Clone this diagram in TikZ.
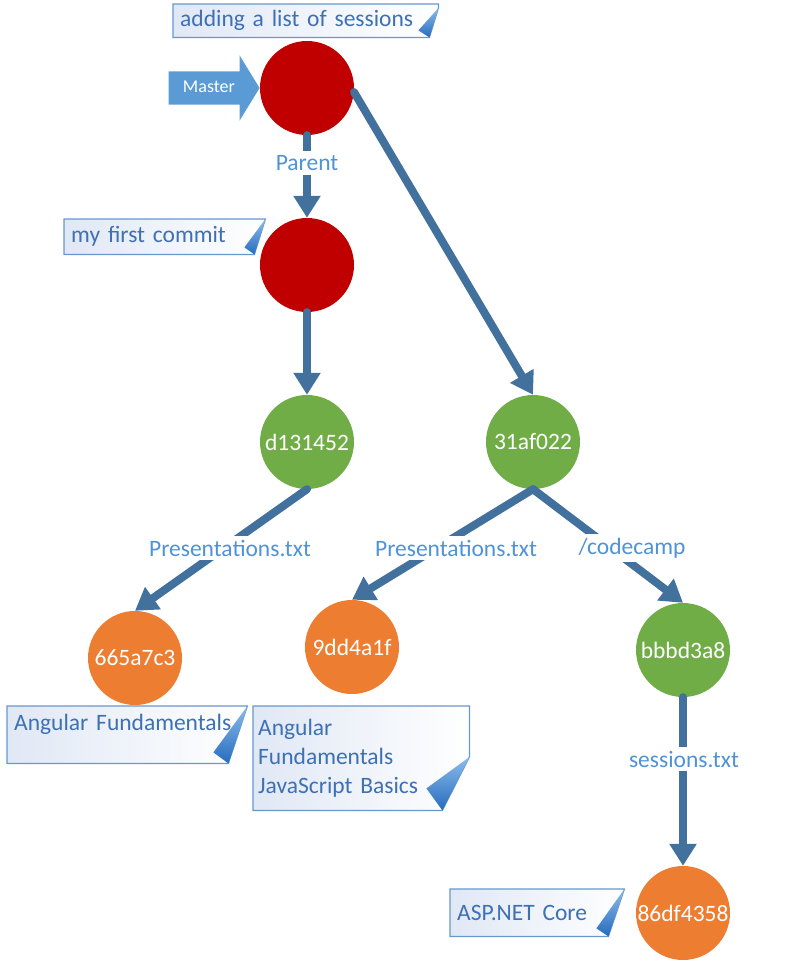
\documentclass[tikz,border=0pt]{standalone}
\usepackage{fontspec}
\setmainfont{Carlito}
\usetikzlibrary{arrows.meta,positioning,shapes.arrows}
\definecolor{linkblue}{RGB}{65,113,156}
\definecolor{labelblue}{RGB}{79,147,214}
\definecolor{notetext}{RGB}{62,112,180}
\definecolor{noteline}{RGB}{104,150,205}
\definecolor{notebg}{RGB}{224,232,245}
\definecolor{curllight}{RGB}{140,188,235}
\definecolor{curldark}{RGB}{38,108,190}
\definecolor{masterblue}{RGB}{91,155,213}
\definecolor{commitred}{RGB}{192,0,0}
\definecolor{treegreen}{RGB}{112,173,71}
\definecolor{bloborange}{RGB}{237,125,49}
\pgfdeclarelayer{background}
\pgfsetlayers{background,main}

% note outline with a curled corner: name, gap, fold, curl dx, curl dy
\newcommand{\notefold}[5]{%
  \begin{pgfonlayer}{background}
    \path[notebox] (#1.north west) -- (#1.north east) -- ([yshift=-#2pt]#1.north east)
      -- ([xshift=-#3pt]#1.south east) -- (#1.south west) -- cycle;
  \end{pgfonlayer}
  \path[notecurl] ([yshift=-#2pt]#1.north east) -- ([xshift=-#3pt]#1.south east)
    -- ([xshift=-#4pt,yshift=#5pt]#1.south east) -- cycle;
}

\begin{document}
\begin{tikzpicture}[x=1pt, y=-1pt,
    every node/.style={font=\fontsize{23.5}{29}\selectfont},
    obj/.style={circle, minimum size=94pt, inner sep=0pt, text=white},
    link/.style={draw=linkblue, line width=8pt, line cap=round, -{Triangle[length=22pt,width=26pt]}},
    linklabel/.style={fill=white, text=labelblue, inner sep=4pt},
    note/.style={anchor=north west, text=notetext, align=left, inner xsep=7pt, inner ysep=0pt},
    notebox/.style={draw=noteline, line width=1.2pt, left color=notebg, right color=white},
    notecurl/.style={top color=curllight, bottom color=curldark},
    masterarrow/.style={single arrow, fill=masterblue, text=white, font=\fontsize{18}{22}\selectfont,
        single arrow head extend=16pt, single arrow tip angle=117, minimum height=91pt,
        text height=13pt, text depth=4pt, inner ysep=8pt, inner xsep=4pt}
]
\useasboundingbox (0,0) rectangle (785,969);

\foreach \name/\x/\y/\col/\txt in {head/307/88/commitred/{}, first/307/265/commitred/{},
    treeA/307/442/treegreen/d131452, treeB/533/442/treegreen/31af022,
    blobA/135/658/bloborange/665a7c3, blobB/352/647/bloborange/9dd4a1f,
    treeC/683/650/treegreen/bbbd3a8, blobC/683/913/bloborange/86df4358}
    \node[obj, fill=\col] (\name) at (\x,\y) {\txt};

\node[masterarrow, anchor=tip] (master) at (head.west) {Master};

\draw[link] (head.south) -- (first.north);
\draw[link] (head.-5) -- (treeB.north);
\draw[link] (first.south) -- (treeA.north);
\draw[link] (treeA.south) -- (blobA.north);
\draw[link] (treeB.south) -- (blobB.north);
\draw[link] (treeB.south) -- (treeC.north);
\draw[link] (treeC.south) -- (blobC.north);

\node[linklabel] (lblparent) at (307,163) {Parent};
\node[linklabel] (lblpresA) at (230,548) {Presentations.txt};
\node[linklabel] (lblpresB) at (456,548) {Presentations.txt};
\node[linklabel] (lblcamp) at (632,548) {/codecamp};
\node[linklabel] (lblsess) at (684,759) {sessions.txt};

% notes
\node[note, text width=251pt, minimum height=33pt] (noteadd) at (173,4) {adding a list of sessions};
\notefold{noteadd}{4}{9}{20}{7}
\node[note, text width=187pt, minimum height=35pt] (notefirst) at (64,219) {my first commit};
\notefold{notefirst}{0}{11}{21}{7}
\node[note, text width=226pt, minimum height=57pt, text depth=24pt] (noteangA) at (7,706) {Angular Fundamentals};
\notefold{noteangA}{0}{19}{34}{11}
\node[note, inner xsep=5pt, text width=206pt, minimum height=104pt] (noteangB) at (253,706) {Angular\\Fundamentals\\JavaScript Basics};
\notefold{noteangB}{51}{27}{43}{22}
\node[note, text width=160pt, minimum height=47pt] (noteasp) at (450,889) {ASP.NET Core};
\notefold{noteasp}{0}{16}{28}{8}
\end{tikzpicture}
\end{document}
